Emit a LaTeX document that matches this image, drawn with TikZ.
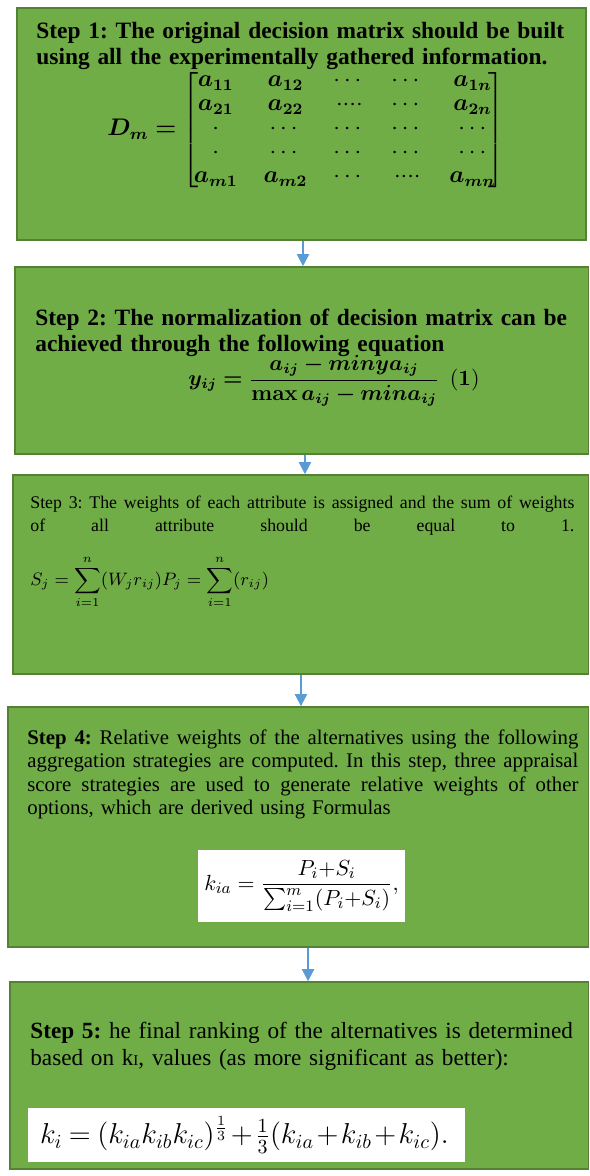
\documentclass[tikz,border=0pt]{standalone}
\usepackage{amsmath, amssymb}
\usepackage{bm}
\usepackage[no-math]{fontspec}
\setmainfont{Liberation Serif}
\usepackage{tikz}
\usetikzlibrary{arrows.meta,positioning,fit}
\usepackage{xcolor}
\definecolor{boxgreen}{HTML}{70AD47}
\definecolor{boxline}{HTML}{548235}
\definecolor{flowblue}{HTML}{5B9BD5}
\newcommand{\fullline}[1]{{\spaceskip=0pt\xspaceskip=0pt\makebox[\hsize][s]{#1}}}
\frenchspacing

\begin{document}
\begin{tikzpicture}[x=0.5pt, y=-0.5pt,
    stepbox/.style={draw=boxline, fill=boxgreen, line width=0.8pt, inner sep=0pt},
    whitebox/.style={fill=white, inner sep=0pt},
    flow/.style={draw=flowblue, line width=1pt, -{Triangle[width=6pt,length=6pt]}},
    headbold/.style={anchor=north west, inner sep=0pt, align=left, font=\bfseries\fontsize{11.7}{12.8}\selectfont},
    plaintext/.style={anchor=north west, inner sep=0pt, align=left}]
    \useasboundingbox (0,0) rectangle (589,1176);

    % the five step boxes
    \node[stepbox, fit={(17,8) (586,240)}] (s1) {};
    \node[stepbox, fit={(15,267) (588.5,454)}] (s2) {};
    \node[stepbox, fit={(13,475) (588.5,674)}] (s3) {};
    \node[stepbox, fit={(8,707) (588.5,947)}] (s4) {};
    \node[stepbox, fit={(10,982) (588.5,1169)}] (s5) {};

    \foreach \a/\b/\dx in {s1/s2/0.75, s2/s3/1.6, s3/s4/0.1, s4/s5/4.9}
        \draw[flow] ([xshift=\dx pt]\a.south) -- ([xshift=\dx pt]\a.south |- \b.north);

    % step 1
    \node[headbold, text width=276pt] (t1) at (36,22)
        {Step 1: The original decision matrix should be built\\ using all the experimentally gathered information.};
    \node[inner sep=0pt, font=\fontsize{12}{12}\selectfont] (m1) at (306,130)
        {$\bm{D_m} \bm{=} \left[\begin{array}{@{\hspace{-2.5pt}}c@{\hspace{13pt}}c@{\hspace{13pt}}c@{\hspace{13pt}}c@{\hspace{13pt}}c@{\hspace{-3.5pt}}}
        \bm{a_{11}} & \bm{a_{12}} & \cdots & \cdots & \bm{a_{1n}}\\
        \bm{a_{21}} & \bm{a_{22}} & {\cdot}{\cdot}{\cdot}{\cdot} & \cdots & \bm{a_{2n}}\\
        \cdot & \cdots & \cdots & \cdots & \cdots\\
        \cdot & \cdots & \cdots & \cdots & \cdots\\
        \bm{a_{m1}} & \bm{a_{m2}} & \cdots & {\cdot}{\cdot}{\cdot}{\cdot} & \bm{a_{mn}}
        \end{array}\right]$};

    % step 2
    \node[headbold, text width=276pt] (t2) at (35,309)
        {Step 2: The normalization of decision matrix can be\\ achieved through the following equation};
    \node[inner sep=0pt, font=\fontsize{10.5}{13}\selectfont] (e2) at (334,381)
        {$\displaystyle \bm{y_{ij}} \bm{=} \frac{\bm{a_{ij} - min y a_{ij}}}{\mathbf{max}\,\bm{a_{ij} - min a_{ij}}} \enspace \mathbf{(1)}$};

    % step 3
    \node[plaintext, text width=272pt, font=\fontsize{8.9}{11.5}\selectfont] (t3) at (30,496)
        {\fullline{Step 3: The weights of each attribute is assigned and the sum of weights}\\
         \fullline{of all attribute should be equal to 1.}};
    \node[inner sep=0pt, anchor=west, font=\fontsize{9}{11}\selectfont] (e3) at (30,582)
        {$\displaystyle S_j = \sum_{i=1}^{n} (W_j r_{ij}) P_j = \sum_{i=1}^{n} (r_{ij})$};

    % step 4
    \node[plaintext, text width=275.5pt, font=\fontsize{10.4}{11.8}\selectfont] (t4) at (27,729)
        {\fullline{\textbf{Step 4:} Relative weights of the alternatives using the following}\\
         \fullline{aggregation strategies are computed. In this step, three appraisal}\\
         \fullline{score strategies are used to generate relative weights of other}\\
         options, which are derived using Formulas};
    \node[whitebox, fit={(198,850) (405,922)}] (w4) {};
    \node[inner sep=0pt, font=\fontsize{11}{13}\selectfont] (e4) at (w4.center)
        {$\displaystyle k_{ia} = \frac{P_i{+}S_i}{\sum_{i=1}^{m}(P_i{+}S_i)},$};

    % step 5
    \node[plaintext, text width=275pt, font=\fontsize{11.6}{13.5}\selectfont] (t5) at (30,1022)
        {\textbf{Step 5:} he final ranking of the alternatives is determined\\
         based on k{\fontsize{7.5}{8}\selectfont I}, values (as more significant as better):};
    \node[whitebox, fit={(28,1108) (465,1162)}] (w5) {};
    \node[inner sep=0pt, anchor=west, font=\fontsize{14.4}{16}\selectfont] (e5) at ([xshift=6pt]w5.west)
        {$\medmuskip=1.5mu \thickmuskip=4mu k_i = (k_{ia}k_{ib}k_{ic})^{\frac{1}{3}} + \tfrac{1}{3}(k_{ia}+k_{ib}+k_{ic}).$};
\end{tikzpicture}
\end{document}
